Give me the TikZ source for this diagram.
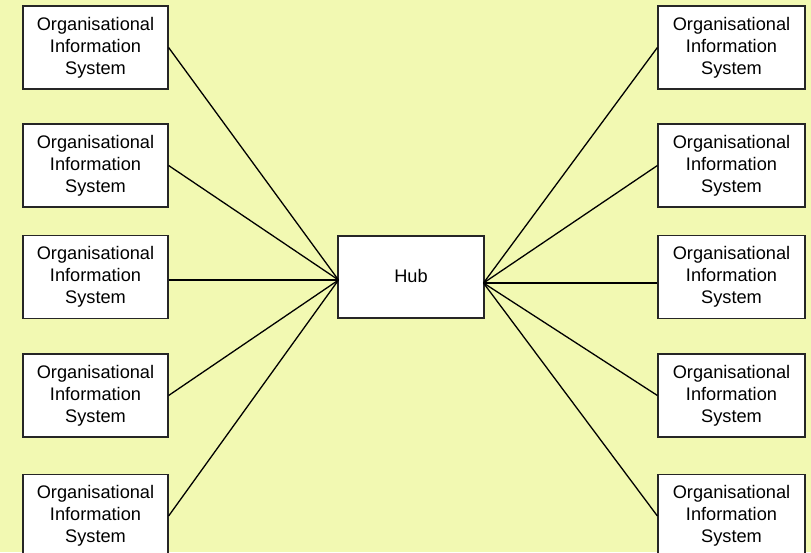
\documentclass[tikz,border=0pt]{standalone}
\usepackage{fontspec}
\setmainfont{Liberation Sans}
\begin{document}
\begin{tikzpicture}[x=1pt,y=-1pt,
  ois/.style={draw=black!85, line width=1.2pt, fill=white,
    minimum width=145pt, minimum height=83pt, align=center,
    inner sep=0pt, font=\fontsize{18.2}{22}\selectfont},
  hubbox/.style={draw=black!85, line width=1.2pt, fill=white,
    minimum width=146pt, minimum height=82pt,
    inner sep=0pt, font=\fontsize{18.2}{22}\selectfont},
  link/.style={draw=black, line width=1.3pt}]
  \clip (0,0) rectangle (811,552);
  \fill[fill={rgb,255:red,242;green,249;blue,178}] (0,0) rectangle (811,552);

  % hub in the middle and the points where the links meet it
  \node[hubbox] (hub) at (411,277) {\raisebox{3pt}{Hub}};
  \coordinate (hubW) at (338.5,280);
  \coordinate (hubE) at (483.5,283);

  % left column of information systems
  \foreach \i/\y in {1/47.5, 2/165.5, 3/277, 4/395.5, 5/516}{
    \node[ois] (L\i) at (95.5,\y) {Organisational\\Information\\System};
  }
  % right column of information systems
  \foreach \i/\y in {1/47.5, 2/165.5, 3/277, 4/395.5, 5/516}{
    \node[ois, minimum width=147pt] (R\i) at (731.5,\y) {Organisational\\Information\\System};
  }

  % links from each system to the hub (middle row runs level)
  \foreach \i in {1,2,4,5}{
    \draw[link] (L\i.east) -- (hubW);
    \draw[link] (R\i.west) -- (hubE);
  }
  \draw[link] (L3.east |- hubW) -- (hubW);
  \draw[link] (R3.west |- hubE) -- (hubE);
\end{tikzpicture}
\end{document}
